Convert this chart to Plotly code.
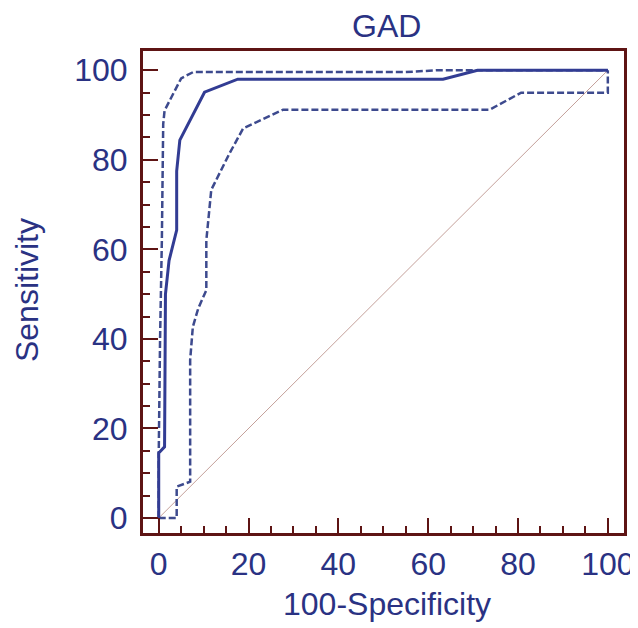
import plotly.graph_objects as go

# ROC curve (100-Specificity, Sensitivity)
roc_x = [0, 0, 1.3, 1.5, 2.3, 3.6, 4.0, 4.0, 4.7, 10.2, 17.6, 63.3, 71.0, 100]
roc_y = [0, 14.5, 15.9, 50, 57.5, 63, 64.3, 77.5, 84.4, 95.1, 98.0, 98.0, 100, 100]

# Upper confidence bound
upper_x = [0, 0, 0.3, 0.7, 1.0, 1.3, 5.0, 7.7, 55, 62, 100]
upper_y = [0, 14, 40, 62, 88, 91, 98.2, 99.6, 99.6, 100, 100]

# Lower confidence bound
lower_x = [0, 4.0, 4.0, 7.0, 7.0, 7.6, 8.8, 10.6, 10.6, 11.7, 15.8, 18.8, 27.7, 73.7, 80.7, 100, 100]
lower_y = [0, 0, 7.0, 8.1, 35.3, 42.7, 46.8, 50.9, 62, 73.3, 81.5, 87.0, 91.2, 91.2, 95.0, 95.0, 100]

# Reference diagonal
diag_x = [0, 100]
diag_y = [0, 100]

tick_vals = [0, 20, 40, 60, 80, 100]
tick_text = ["0", "20", "40", "60", "80", "100"]

NAVY = "#2a3283"
LINE = "#323c93"
DASH = "#3d4a8e"
FRAME = "#5e1414"
FONT = "Liberation Sans, Arial, sans-serif"
FS = 32

fig = go.Figure()
fig.add_trace(go.Scatter(x=diag_x, y=diag_y, mode="lines",
                         line=dict(color="#c4a09a", width=1), hoverinfo="skip"))
fig.add_trace(go.Scatter(x=upper_x, y=upper_y, mode="lines",
                         line=dict(color=DASH, width=2.5, dash="7px,3px")))
fig.add_trace(go.Scatter(x=lower_x, y=lower_y, mode="lines",
                         line=dict(color=DASH, width=2.5, dash="7px,3px")))
fig.add_trace(go.Scatter(x=roc_x, y=roc_y, mode="lines",
                         line=dict(color=LINE, width=3)))

axis_common = dict(
    tickvals=tick_vals, ticktext=tick_text,
    ticks="inside", ticklen=15, tickwidth=2, tickcolor=FRAME,
    minor=dict(dtick=5, ticks="inside", ticklen=7, tickwidth=2, tickcolor=FRAME, showgrid=False),
    showline=True, linewidth=3, linecolor=FRAME, mirror=True,
    showgrid=False, zeroline=False, automargin=False,
    tickfont=dict(family=FONT, size=FS, color=NAVY),
)

# page body adds an 8px offset, so the figure is 630x620
fig.update_layout(
    width=630, height=620,
    margin=dict(l=135, r=14, t=43, b=95, autoexpand=False),
    paper_bgcolor="white", plot_bgcolor="white",
    showlegend=False,
    xaxis=dict(range=[-3.5, 103.6], ticklabelstandoff=1, **axis_common),
    yaxis=dict(range=[-3.35, 104.3], ticklabelstandoff=6, **axis_common),
    annotations=[
        dict(text="GAD", x=0.507, y=1.052, xref="paper", yref="paper",
             xanchor="center", yanchor="middle", showarrow=False,
             font=dict(family=FONT, size=FS, color=NAVY)),
        dict(text="100-Specificity", x=0.507, y=-0.147, xref="paper", yref="paper",
             xanchor="center", yanchor="middle", showarrow=False,
             font=dict(family=FONT, size=FS, color=NAVY)),
        dict(text="Sensitivity", x=-0.2412, y=0.504, xref="paper", yref="paper",
             xanchor="center", yanchor="middle", showarrow=False, textangle=-90,
             borderpad=0,
             font=dict(family=FONT, size=FS, color=NAVY)),
    ],
)

fig.write_html("out.html")
